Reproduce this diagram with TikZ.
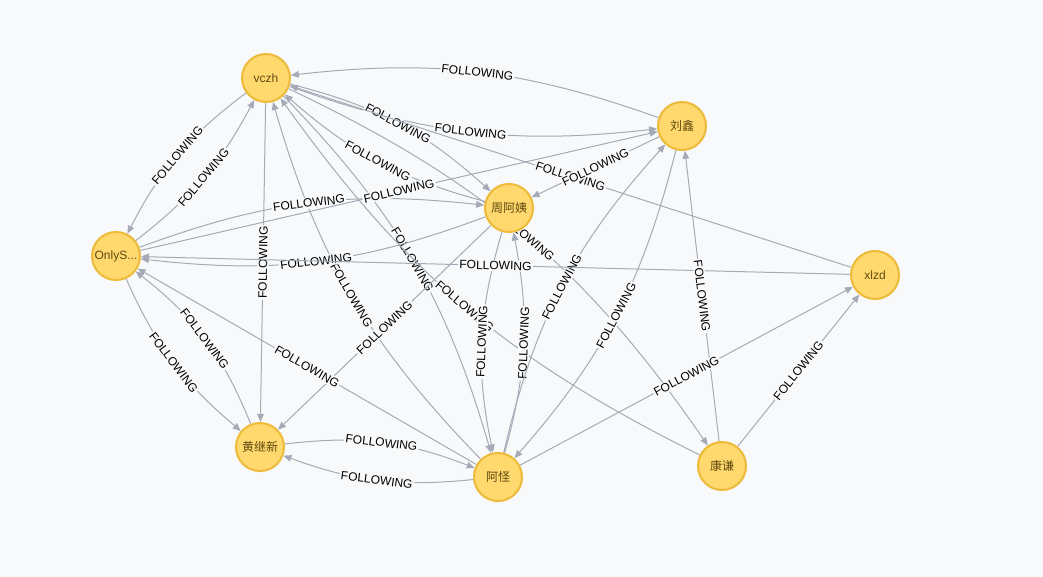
\documentclass[tikz,border=0pt]{standalone}
\usepackage{fontspec}
\setmainfont{Liberation Sans}
\newfontfamily\cjk{Noto Sans CJK SC}
\usetikzlibrary{arrows.meta}

\definecolor{bgcol}{RGB}{248,249,250}
\definecolor{relcol}{HTML}{A5ABB6}
\definecolor{nodefill}{HTML}{FFD86E}
\definecolor{nodeline}{HTML}{EDBA39}
\definecolor{nodetext}{HTML}{604A0E}

\pgfdeclarelayer{back}
\pgfdeclarelayer{edges}
\pgfsetlayers{back,edges,main}

\begin{document}
\begin{tikzpicture}[x=0.75pt, y=0.75pt, font=\fontsize{9}{10}\selectfont,
    person/.style={circle, draw=nodeline, fill=nodefill, line width=1.5pt,
      minimum size=36pt, inner sep=0pt, text=nodetext},
    rel/.style={draw=relcol, line width=0.75pt, -{Triangle[length=6pt, width=5pt]}},
    lbl/.style={midway, sloped, fill=bgcol, inner sep=1pt, text=black}]
  \begin{pgfonlayer}{back}
    \fill[bgcol] (0,0) rectangle (1043,-577);
  \end{pgfonlayer}

  % the people, at their places in the layout
  \node[person] (vczh)   at (266,-78)  {vczh};
  \node[person] (liuxin) at (682,-126) {\cjk 刘鑫};
  \node[person] (zhou)   at (509,-208) {\cjk 周阿姨};
  \node[person] (onlys)  at (116,-256) {OnlyS...};
  \node[person] (xlzd)   at (875,-275) {xlzd};
  \node[person] (huang)  at (260,-447) {\cjk 黄继新};
  \node[person] (aguai)  at (498,-477) {\cjk 阿怪};
  \node[person] (kang)   at (722,-466) {\cjk 康谦};

  % follows: pairs bend apart, single ones are straight
  \begin{pgfonlayer}{edges}
    \foreach \a/\b/\bend in {
        liuxin/vczh/-13, vczh/liuxin/-13,
        vczh/onlys/-13, onlys/vczh/-12,
        vczh/zhou/14, zhou/vczh/13,
        vczh/aguai/14, aguai/vczh/14,
        vczh/kang/15, kang/vczh/14,
        onlys/huang/-13, huang/onlys/-15,
        huang/aguai/14, aguai/huang/13,
        zhou/aguai/-14, aguai/zhou/-13,
        aguai/liuxin/14.5, liuxin/aguai/13.5,
        onlys/zhou/13.3, zhou/onlys/13.5,
        vczh/huang/0, xlzd/onlys/0, onlys/liuxin/0, xlzd/vczh/0, liuxin/zhou/0,
        zhou/huang/0, kang/liuxin/0, kang/xlzd/0, aguai/xlzd/0, aguai/onlys/0} {
      \draw[rel] (\a) to[bend left=\bend] node[lbl] {FOLLOWING} (\b);
    }
  \end{pgfonlayer}
\end{tikzpicture}
\end{document}
